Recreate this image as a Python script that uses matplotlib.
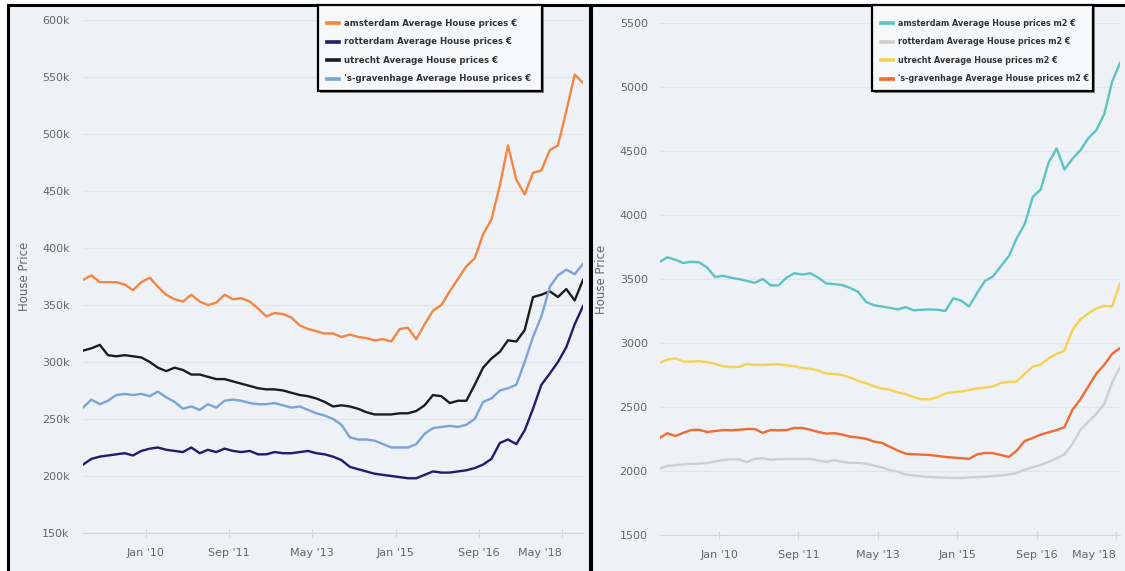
import matplotlib
matplotlib.use("Agg")
import matplotlib.pyplot as plt
from matplotlib.patches import Rectangle
from matplotlib.lines import Line2D
import pandas as pd

W, H = 1125, 571

# two-monthly readings
dates_price = pd.date_range("2008-10-01", periods=61, freq="2MS")
dates_m2 = pd.date_range("2008-10-01", periods=59, freq="2MS")

# average house prices, thousands of euro
amsterdam = [372, 376, 370, 370, 370, 368, 363, 370, 374, 366, 359, 355, 353, 359, 353, 350,
             352, 359, 355, 356, 353, 347, 340, 343, 342, 339, 332, 329, 327, 325, 325, 322,
             324, 322, 321, 319, 320, 318, 329, 330, 320, 333, 345, 350, 362, 373, 384, 391,
             412, 425, 455, 490, 460, 447, 466, 468, 486, 490, 520, 552, 545]
rotterdam = [210, 215, 217, 218, 219, 220, 218, 222, 224, 225, 223, 222, 221, 225, 220, 223,
             221, 224, 222, 221, 222, 219, 219, 221, 220, 220, 221, 222, 220, 219, 217, 214,
             208, 206, 204, 202, 201, 200, 199, 198, 198, 201, 204, 203, 203, 204, 205, 207,
             210, 215, 229, 232, 228, 240, 259, 280, 290, 300, 313, 333, 349]
utrecht = [310, 312, 315, 306, 305, 306, 305, 304, 300, 295, 292, 295, 293, 289, 289, 287,
           285, 285, 283, 281, 279, 277, 276, 276, 275, 273, 271, 270, 268, 265, 261, 262,
           261, 259, 256, 254, 254, 254, 255, 255, 257, 262, 271, 270, 264, 266, 266, 280,
           295, 303, 309, 319, 318, 328, 357, 359, 362, 357, 364, 354, 372]
gravenhage = [260, 267, 263, 266, 271, 272, 271, 272, 270, 274, 269, 265, 259, 261, 258, 263,
              260, 266, 267, 266, 264, 263, 263, 264, 262, 260, 261, 258, 255, 253, 250, 245,
              234, 232, 232, 231, 228, 225, 225, 225, 228, 237, 242, 243, 244, 243, 245, 250,
              265, 268, 275, 277, 280, 300, 322, 340, 366, 376, 381, 377, 386]

# average house prices per m2, euro
amsterdam_m2 = [3633, 3670, 3650, 3625, 3635, 3630, 3590, 3515, 3525, 3510, 3500, 3485, 3470,
                3500, 3450, 3450, 3510, 3545, 3535, 3545, 3510, 3465, 3460, 3453, 3430, 3400,
                3320, 3295, 3285, 3275, 3262, 3280, 3255, 3260, 3262, 3260, 3250, 3350, 3330,
                3285, 3390, 3485, 3520, 3600, 3680, 3820, 3930, 4140, 4200, 4410, 4520, 4355,
                4440, 4505, 4600, 4662, 4790, 5040, 5188]
rotterdam_m2 = [2020, 2040, 2045, 2052, 2056, 2058, 2062, 2075, 2086, 2092, 2090, 2070, 2095,
                2100, 2088, 2092, 2094, 2094, 2094, 2094, 2082, 2070, 2085, 2072, 2063, 2063,
                2058, 2042, 2028, 2008, 1995, 1972, 1965, 1958, 1953, 1950, 1948, 1945, 1946,
                1950, 1953, 1956, 1960, 1965, 1972, 1985, 2010, 2030, 2047, 2070, 2100, 2130,
                2210, 2320, 2385, 2445, 2525, 2690, 2813]
utrecht_m2 = [2845, 2870, 2880, 2855, 2855, 2858, 2850, 2838, 2818, 2812, 2813, 2835, 2830,
              2828, 2832, 2834, 2826, 2818, 2805, 2798, 2785, 2762, 2758, 2750, 2730, 2705,
              2685, 2662, 2645, 2635, 2615, 2600, 2578, 2560, 2560, 2575, 2605, 2615, 2622,
              2633, 2645, 2652, 2660, 2688, 2695, 2700, 2760, 2815, 2830, 2880, 2915, 2940,
              3100, 3185, 3230, 3270, 3290, 3285, 3465]
gravenhage_m2 = [2258, 2295, 2273, 2298, 2320, 2322, 2305, 2312, 2320, 2318, 2322, 2328, 2328,
                 2298, 2320, 2318, 2320, 2336, 2336, 2322, 2305, 2292, 2295, 2285, 2268, 2262,
                 2252, 2230, 2220, 2190, 2160, 2135, 2131, 2128, 2125, 2118, 2110, 2105, 2100,
                 2095, 2130, 2141, 2140, 2125, 2110, 2160, 2235, 2258, 2285, 2302, 2320, 2342,
                 2478, 2560, 2660, 2760, 2830, 2915, 2960]

tick_dates = pd.to_datetime(["2010-01-01", "2011-09-01", "2013-05-01",
                             "2015-01-01", "2016-09-01", "2018-05-01"])
tick_labels = ["Jan '10", "Sep '11", "May '13", "Jan '15", "Sep '16", "May '18"]

price_labels = ["amsterdam Average House prices €", "rotterdam Average House prices €",
                "utrecht Average House prices €", "'s-gravenhage Average House prices €"]
m2_labels = ["amsterdam Average House prices m2 €", "rotterdam Average House prices m2 €",
             "utrecht Average House prices m2 €", "'s-gravenhage Average House prices m2 €"]
price_colors = ["#f5853f", "#1f1c6e", "#1c1c1c", "#7aa3d6"]
m2_colors = ["#5cc3c3", "#cfcfcf", "#f6d152", "#f26a30"]

BG = "#eef2f6"
GRID = "#e1e5ea"
TXT = "#666666"


def fx(x):
    return x / W


def fy(y):
    return 1 - y / H


def panel(fig, x0, x1):
    fig.patches.append(Rectangle((fx(x0), -0.05), fx(x1 - x0), fy(5) + 0.05,
                                 transform=fig.transFigure, facecolor=BG,
                                 edgecolor="black", linewidth=2.2, zorder=-2))


def legend(fig, x0, x1, labels, colors, size):
    y0, y1 = 5, 91
    fig.patches.append(Rectangle((fx(x0 + 2), fy(y1 + 2)), fx(x1 - x0), fy(y0) - fy(y1),
                                 transform=fig.transFigure, facecolor="#888888",
                                 edgecolor="none", zorder=4))
    fig.patches.append(Rectangle((fx(x0), fy(y1)), fx(x1 - x0), fy(y0) - fy(y1),
                                 transform=fig.transFigure, facecolor="#f6f8fa",
                                 edgecolor="black", linewidth=1.6, zorder=5))
    for k, (lab, col) in enumerate(zip(labels, colors)):
        yy = 23 + k * 18.6
        fig.lines.append(Line2D([fx(x0 + 9), fx(x0 + 21)], [fy(yy), fy(yy)],
                                transform=fig.transFigure, color=col, lw=2.6, zorder=6))
        fig.text(fx(x0 + 26), fy(yy), lab, fontsize=size, fontweight="bold",
                 color="#333333", va="center", ha="left", zorder=6)


def style_axes(ax, ylim, yticks, yfmt, ypad):
    ax.set_facecolor("none")
    for s in ["top", "right", "left"]:
        ax.spines[s].set_visible(False)
    ax.spines["bottom"].set_color("#ccd6eb")
    ax.set_ylim(*ylim)
    ax.set_yticks(yticks)
    ax.set_yticklabels([yfmt(v) for v in yticks])
    ax.yaxis.grid(True, color=GRID, linewidth=1)
    ax.set_axisbelow(True)
    ax.tick_params(axis="y", length=0, pad=ypad, labelsize=8, labelcolor=TXT)
    ax.set_xticks(tick_dates)
    ax.set_xticklabels(tick_labels)
    ax.tick_params(axis="x", direction="inout", length=6, color="#ccd6eb",
                   pad=8, labelsize=8, labelcolor=TXT)
    last = ax.get_xticklabels()[-1]
    last.set_horizontalalignment("right")
    ax.set_ylabel("House Price", fontsize=8.5, color=TXT)


fig = plt.figure(figsize=(W / 100, H / 100), dpi=100, facecolor="white")
panel(fig, 8, 590)
panel(fig, 591, 1140)

# left: price
ax1 = fig.add_axes([fx(83), fy(533), fx(583 - 83), fy(20) - fy(533)])
for vals, col in zip([amsterdam, rotterdam, utrecht, gravenhage], price_colors):
    ax1.plot(dates_price, vals, color=col, lw=1.7, solid_joinstyle="round")
ax1.set_xlim(dates_price[0], dates_price[-1])
style_axes(ax1, (150, 600), list(range(150, 601, 50)), lambda v: f"{v}k", 9.5)
ax1.yaxis.set_label_coords(-0.104, 0.5)

# right: price per m2
ax2 = fig.add_axes([fx(659.5), fy(535), fx(1120 - 659.5), fy(23) - fy(535)])
for vals, col in zip([amsterdam_m2, rotterdam_m2, utrecht_m2, gravenhage_m2], m2_colors):
    ax2.plot(dates_m2, vals, color=col, lw=1.7, solid_joinstyle="round")
ax2.set_xlim(dates_m2[0], dates_m2[-1])
style_axes(ax2, (1500, 5500), list(range(1500, 5501, 500)), lambda v: f"{v}", 8.5)
ax2.yaxis.set_label_coords(-0.111, 0.5)

legend(fig, 318, 542, price_labels, price_colors, 6.2)
legend(fig, 872, 1093, m2_labels, m2_colors, 5.8)

fig.savefig("out.png", dpi=100, facecolor="white")
